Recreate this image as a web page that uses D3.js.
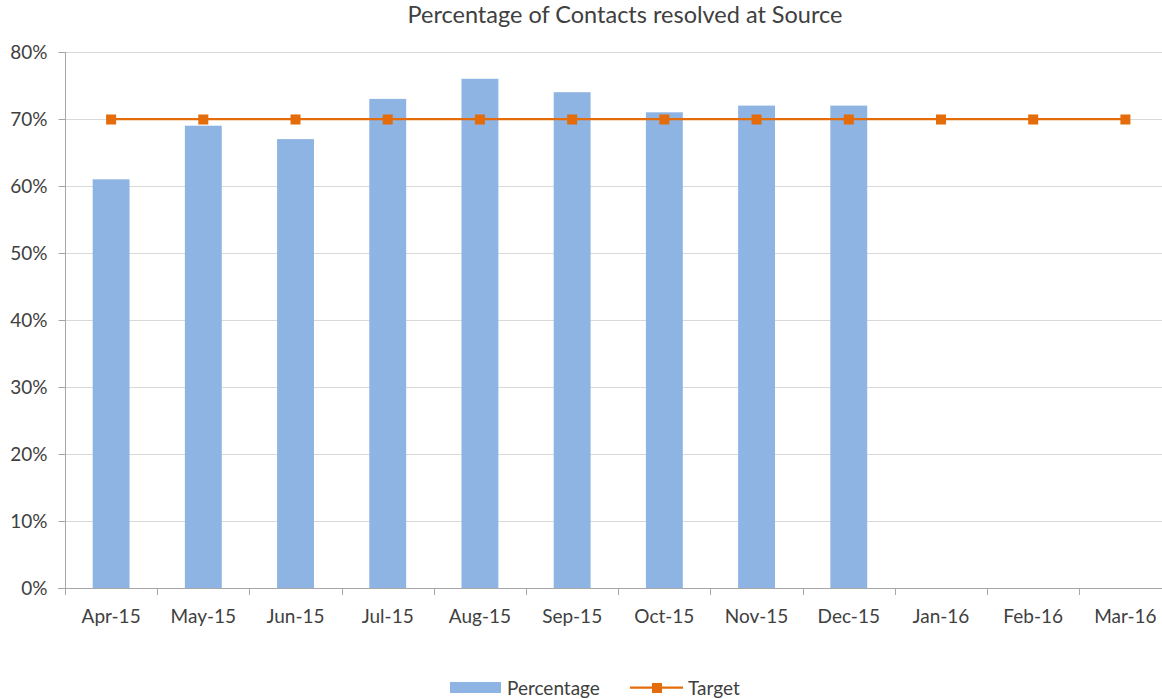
<!DOCTYPE html>
<html>
<head>
<meta charset="utf-8">
<script src="https://cdn.jsdelivr.net/npm/d3@7"></script>
<style>
  body { margin: 0; background: #fff; }
  text { font-family: Lato, "Open Sans", sans-serif; fill: #404040; }
</style>
</head>
<body>
<div id="chart"></div>
<script>
// chart data
var months = ["Apr-15", "May-15", "Jun-15", "Jul-15", "Aug-15", "Sep-15", "Oct-15", "Nov-15", "Dec-15", "Jan-16", "Feb-16", "Mar-16"];
var percentage = [0.61, 0.69, 0.67, 0.73, 0.76, 0.74, 0.71, 0.72, 0.72, null, null, null];
var target = [0.70, 0.70, 0.70, 0.70, 0.70, 0.70, 0.70, 0.70, 0.70, 0.70, 0.70, 0.70];
var yTicks = [0, 0.1, 0.2, 0.3, 0.4, 0.5, 0.6, 0.7, 0.8];

var width = 1162, height = 699;
var mLeft = 65, mTop = 52, plotW = 1106.5, plotH = 536;

var svg = d3.select("#chart").append("svg").attr("width", width).attr("height", height);

var x = d3.scaleBand().domain(months).range([mLeft, mLeft + plotW]).paddingInner(0.6).paddingOuter(0.3);
var xb = d3.scaleBand().domain(months).range([mLeft, mLeft + plotW]);
var y = d3.scaleLinear().domain([0, 0.8]).range([mTop + plotH, mTop]);

// gridlines
svg.append("g").selectAll("line").data(yTicks.filter(function(d) { return d > 0; })).enter().append("line")
  .attr("x1", mLeft).attr("x2", width).attr("y1", function(d) { return y(d) + 0.5; }).attr("y2", function(d) { return y(d) + 0.5; })
  .attr("stroke", "#d9d9d9").attr("stroke-width", 1);

// bars
svg.append("g").selectAll("rect").data(months.map(function(m, i) { return {m: m, v: percentage[i]}; }).filter(function(d) { return d.v != null; }))
  .enter().append("rect")
  .attr("x", function(d) { return x(d.m); }).attr("width", x.bandwidth())
  .attr("y", function(d) { return y(d.v); }).attr("height", function(d) { return y(0) - y(d.v); })
  .attr("fill", "#8eb4e3");

// y axis
var yAxis = d3.axisLeft(y).tickValues(yTicks).tickFormat(d3.format(".0%")).tickSize(7).tickPadding(11);
var gy = svg.append("g").attr("transform", "translate(" + (mLeft + 0.5) + ",0)").call(yAxis);
gy.select(".domain").attr("stroke", "#a6a6a6").attr("d", "M0," + mTop + "V" + (mTop + plotH));
gy.selectAll(".tick line").attr("stroke", "#a6a6a6");
gy.selectAll(".tick").attr("transform", function(d) { return "translate(0," + (y(d) + 0.5) + ")"; });
gy.selectAll("text").style("font-size", "19px").attr("fill", "#404040");

// x axis
var xAxis = d3.axisBottom(xb).tickSize(0).tickPadding(21);
var gx = svg.append("g").attr("transform", "translate(0," + (mTop + plotH + 0.5) + ")").call(xAxis);
gx.select(".domain").attr("stroke", "#a6a6a6").attr("d", "M" + (mLeft - 7) + ",0H" + width);
gx.selectAll("text").style("font-size", "19px").attr("fill", "#404040");
svg.append("g").selectAll("line").data(d3.range(months.length + 1)).enter().append("line")
  .attr("x1", function(i) { return Math.round(mLeft + i * xb.step()) + 0.5; })
  .attr("x2", function(i) { return Math.round(mLeft + i * xb.step()) + 0.5; })
  .attr("y1", mTop + plotH).attr("y2", mTop + plotH + 7)
  .attr("stroke", "#a6a6a6");

// target line
var line = d3.line().x(function(d, i) { return xb(months[i]) + xb.bandwidth() / 2; }).y(function(d) { return y(d); });
svg.append("path").datum(target).attr("d", line).attr("fill", "none").attr("stroke", "#e46c0a").attr("stroke-width", 2.25);
svg.append("g").selectAll("rect").data(target).enter().append("rect")
  .attr("x", function(d, i) { return xb(months[i]) + xb.bandwidth() / 2 - 5; })
  .attr("y", function(d) { return y(d) - 4.5; })
  .attr("width", 10).attr("height", 10).attr("fill", "#e46c0a");

// title
svg.append("text").attr("x", 625).attr("y", 23).attr("text-anchor", "middle").style("font-size", "23.5px")
  .text("Percentage of Contacts resolved at Source");

// legend
var lg = svg.append("g");
lg.append("rect").attr("x", 450).attr("y", 682).attr("width", 51).attr("height", 11).attr("fill", "#8eb4e3");
lg.append("text").attr("x", 507).attr("y", 695).style("font-size", "19px").text("Percentage");
lg.append("line").attr("x1", 630).attr("x2", 683).attr("y1", 687.5).attr("y2", 687.5).attr("stroke", "#e46c0a").attr("stroke-width", 2.25);
lg.append("rect").attr("x", 652).attr("y", 683).attr("width", 10).attr("height", 10).attr("fill", "#e46c0a");
lg.append("text").attr("x", 688).attr("y", 695).style("font-size", "19px").text("Target");
</script>
</body>
</html>
